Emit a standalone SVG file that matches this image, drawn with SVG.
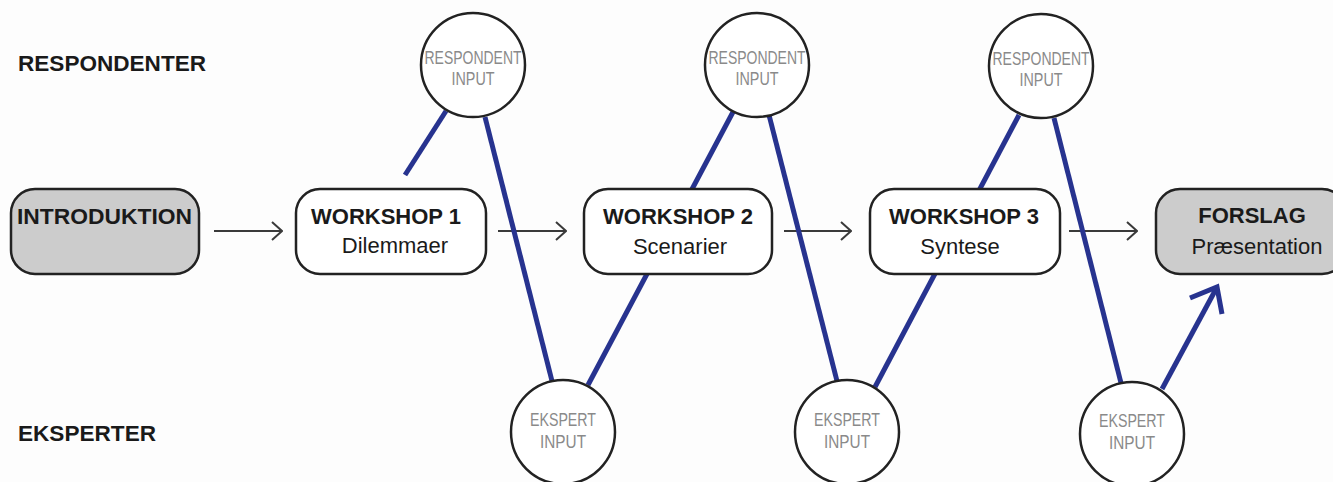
<svg xmlns="http://www.w3.org/2000/svg" width="1333" height="482" viewBox="0 0 1333 482">
<style>
.bg{fill:#fdfdfd}
.box{stroke:#222;stroke-width:2.5}
.w{fill:#fff}
.g{fill:#cccccc}
.circ{fill:#fff;stroke:#222;stroke-width:2.5}
.arr{stroke:#3a3a3a;stroke-width:2;fill:none}
.blue{stroke:#27338f;stroke-width:5;fill:none;stroke-linecap:butt}
.b{font-family:"Liberation Sans",Arial,sans-serif;font-weight:bold;font-size:22px;fill:#1a1a1a}
.r{font-family:"Liberation Sans",Arial,sans-serif;font-size:22px;fill:#1a1a1a}
.c{font-family:"Liberation Sans",Arial,sans-serif;font-size:19px;fill:#8a8a8a;text-anchor:middle}
</style>
<defs>
<marker id="ah" viewBox="0 0 12 20" refX="11" refY="10" markerWidth="12" markerHeight="20" markerUnits="userSpaceOnUse" orient="auto">
<path d="M1,1 L11,10 L1,19" fill="none" stroke="#3a3a3a" stroke-width="2"/>
</marker>
</defs>
<rect class="bg" x="0" y="0" width="1333" height="482"/>
<g id="lane-labels">
<text class="b" x="18" y="71" textLength="188" lengthAdjust="spacingAndGlyphs">RESPONDENTER</text>
<text class="b" x="18" y="441" textLength="138" lengthAdjust="spacingAndGlyphs">EKSPERTER</text>
</g>
<g id="connectors">
<line class="arr" x1="214" y1="231" x2="282" y2="231" marker-end="url(#ah)"/>
<line class="arr" x1="498" y1="231" x2="566" y2="231" marker-end="url(#ah)"/>
<line class="arr" x1="784" y1="231" x2="851" y2="231" marker-end="url(#ah)"/>
<line class="arr" x1="1069" y1="231" x2="1137" y2="231" marker-end="url(#ah)"/>
<line class="blue" x1="446" y1="111" x2="405" y2="175"/>
<line class="blue" x1="485" y1="117" x2="552" y2="381"/>
<line class="blue" x1="588" y1="385" x2="733" y2="112"/>
<line class="blue" x1="769" y1="115" x2="837" y2="381"/>
<line class="blue" x1="875" y1="387" x2="1019" y2="115"/>
<line class="blue" x1="1054" y1="118" x2="1121" y2="383"/>
<line class="blue" x1="1162" y1="389" x2="1216" y2="289"/>
<path class="blue" d="M1190,298 L1217,287 L1222,314"/>
</g>
<g id="introduktion">
<rect class="box g" x="11" y="189" width="188" height="85" rx="24"/>
<text class="b" x="17" y="224" textLength="175" lengthAdjust="spacingAndGlyphs">INTRODUKTION</text>
</g>
<g id="workshop1">
<rect class="box w" x="296" y="189" width="190" height="85" rx="24"/>
<text class="b" x="386" y="224" text-anchor="middle">WORKSHOP 1</text>
<text class="r" x="395" y="253" text-anchor="middle">Dilemmaer</text>
</g>
<g id="workshop2">
<rect class="box w" x="584" y="189" width="188" height="85" rx="24"/>
<text class="b" x="678" y="224" text-anchor="middle">WORKSHOP 2</text>
<text class="r" x="680" y="254" text-anchor="middle">Scenarier</text>
</g>
<g id="workshop3">
<rect class="box w" x="870" y="189" width="190" height="85" rx="24"/>
<text class="b" x="964" y="224" text-anchor="middle">WORKSHOP 3</text>
<text class="r" x="960" y="254" text-anchor="middle">Syntese</text>
</g>
<g id="forslag">
<rect class="box g" x="1156" y="189" width="190" height="85" rx="24"/>
<text class="b" x="1252" y="223" text-anchor="middle">FORSLAG</text>
<text class="r" x="1257" y="254" text-anchor="middle">Præsentation</text>
</g>
<g id="respondent1">
<circle class="circ" cx="473" cy="65" r="52"/>
<text class="c" x="473" y="64" textLength="97" lengthAdjust="spacingAndGlyphs">RESPONDENT</text>
<text class="c" x="473" y="85" textLength="43" lengthAdjust="spacingAndGlyphs">INPUT</text>
</g>
<g id="respondent2">
<circle class="circ" cx="757" cy="65" r="52"/>
<text class="c" x="757" y="64" textLength="97" lengthAdjust="spacingAndGlyphs">RESPONDENT</text>
<text class="c" x="757" y="85" textLength="43" lengthAdjust="spacingAndGlyphs">INPUT</text>
</g>
<g id="respondent3">
<circle class="circ" cx="1041" cy="66" r="52"/>
<text class="c" x="1041" y="65" textLength="97" lengthAdjust="spacingAndGlyphs">RESPONDENT</text>
<text class="c" x="1041" y="86" textLength="43" lengthAdjust="spacingAndGlyphs">INPUT</text>
</g>
<g id="ekspert1">
<circle class="circ" cx="563" cy="432" r="52"/>
<text class="c" x="563" y="426" textLength="66" lengthAdjust="spacingAndGlyphs">EKSPERT</text>
<text class="c" x="563" y="448" textLength="46" lengthAdjust="spacingAndGlyphs">INPUT</text>
</g>
<g id="ekspert2">
<circle class="circ" cx="847" cy="432" r="52"/>
<text class="c" x="847" y="426" textLength="66" lengthAdjust="spacingAndGlyphs">EKSPERT</text>
<text class="c" x="847" y="448" textLength="46" lengthAdjust="spacingAndGlyphs">INPUT</text>
</g>
<g id="ekspert3">
<circle class="circ" cx="1132" cy="434" r="52"/>
<text class="c" x="1132" y="427" textLength="66" lengthAdjust="spacingAndGlyphs">EKSPERT</text>
<text class="c" x="1132" y="449" textLength="46" lengthAdjust="spacingAndGlyphs">INPUT</text>
</g>
</svg>
